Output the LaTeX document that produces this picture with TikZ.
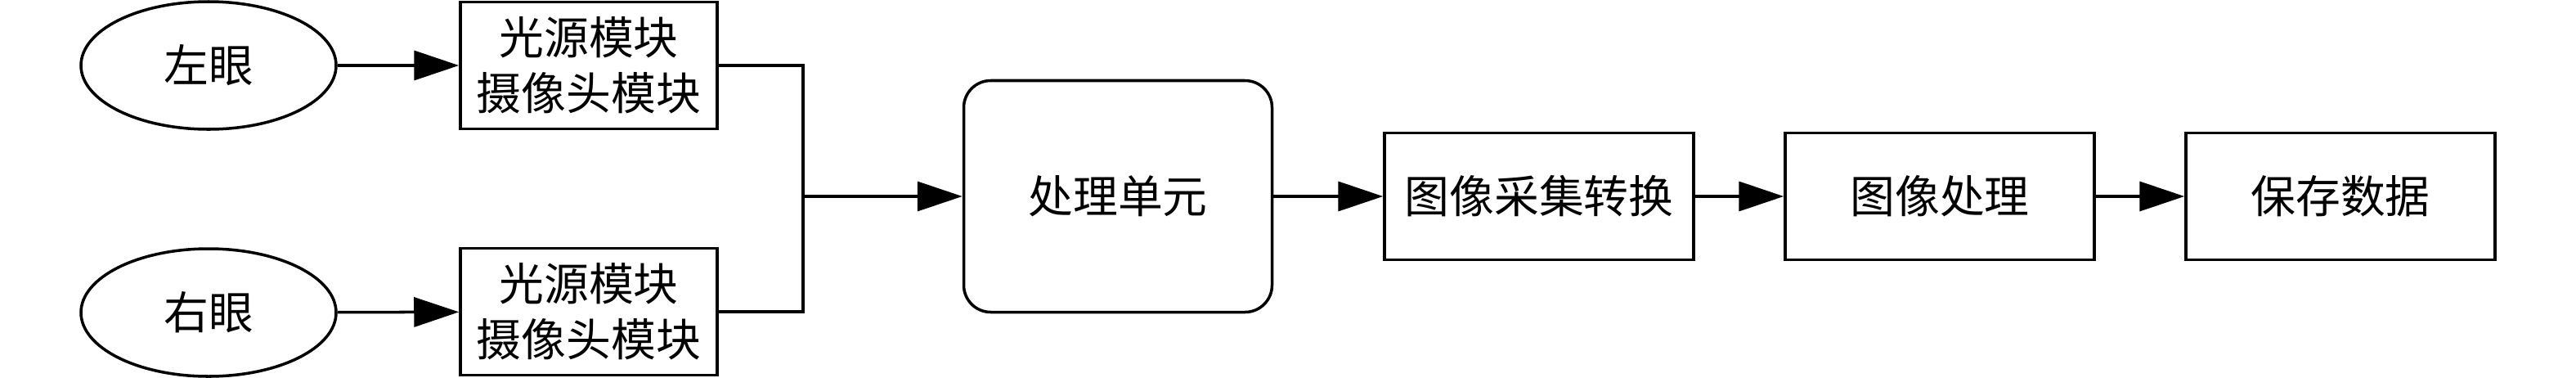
\documentclass[tikz,border=0pt]{standalone}
\usepackage{fontspec}
\newfontfamily\cjk{Noto Sans CJK SC}
\usetikzlibrary{arrows.meta,shapes.geometric}

\begin{document}
\begin{tikzpicture}[
  every node/.style={font=\cjk\fontsize{15.6}{19.4}\selectfont, line width=1pt, inner sep=0pt},
  eye/.style={draw, ellipse, minimum width=3.12cm, minimum height=1.56cm},
  module/.style={draw, rectangle, minimum width=3.14cm, minimum height=1.55cm, align=center},
  unit/.style={draw, rectangle, rounded corners=0.33cm, minimum width=3.77cm, minimum height=2.83cm},
  stage/.style={draw, rectangle, minimum width=3.78cm, minimum height=1.55cm},
  flow/.style={line width=1pt, -{Triangle[length=5.5mm, width=3.6mm]}},
  wire/.style={line width=1pt}
]
\useasboundingbox (0,0) rectangle (31.5,4.61);

\node[eye] (leye) at (2.55,3.81) {左眼};
\node[eye] (reye) at (2.55,0.79) {右眼};

\node[module] (lcam) at (7.20,3.81) {光源模块\\摄像头模块};
\node[module] (rcam) at (7.20,0.80) {光源模块\\摄像头模块};
\path[draw,flow] (leye) -- (lcam);
\path[draw,flow] (reye) -- (rcam);

\coordinate (join) at (9.82,2.21);
\node[unit] (proc) at (13.67,2.21) {处理单元};
\path[draw,wire] (lcam.east) -| (join);
\path[draw,wire] (rcam.east) -| (join);
\path[draw,flow] (join) -- (proc);

\node[stage] (conv) at (18.82,2.21) {图像采集转换};
\node[stage] (imgp) at (23.72,2.21) {图像处理};
\node[stage] (save) at (28.62,2.21) {保存数据};
\path[draw,flow] (proc) -- (conv);
\path[draw,flow] (conv) -- (imgp);
\path[draw,flow] (imgp) -- (save);
\end{tikzpicture}
\end{document}
